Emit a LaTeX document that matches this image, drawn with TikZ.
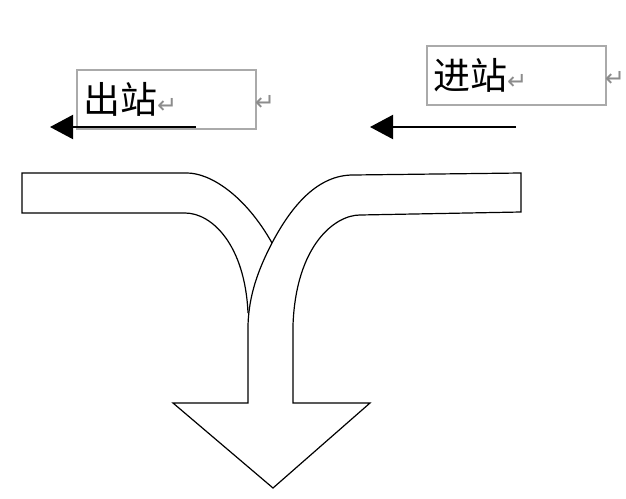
\documentclass[tikz,border=0pt]{standalone}
\usepackage{fontspec}
\newfontfamily\cjk{Noto Sans CJK SC}
\newfontfamily\symfont{DejaVu Sans}
\usetikzlibrary{arrows.meta}
\definecolor{boxgray}{RGB}{170,170,170}
\definecolor{markgray}{RGB}{140,140,140}
\newcommand{\retmark}{{\symfont\fontsize{24}{24}\selectfont\color{markgray}↵}}
\tikzset{
  stationbox/.style={draw=boxgray, line width=2pt, anchor=north west, minimum height=59pt,
    text width=167pt, inner xsep=6pt, align=left, font=\cjk\fontsize{37}{37}\selectfont},
  flowarrow/.style={line width=2pt, -{Triangle[length=23pt,width=24pt]}},
  outline/.style={line width=1.2pt, line join=miter}
}
\begin{document}
\begin{tikzpicture}[x=1pt,y=-1pt]
  \useasboundingbox (0,0) rectangle (626,498);
  % labels
  \node [stationbox] (exitbox) at (76,69) {出站\retmark};
  \node [stationbox] (entrybox) at (426,45) {进站\retmark};
  \node (exitmark) at (265,103) {\retmark};
  \node (entrymark) at (615,79) {\retmark};
  % direction arrows
  \coordinate (exitfrom) at (196,127);
  \coordinate (exitto) at (50,127);
  \coordinate (entryfrom) at (516,127);
  \coordinate (entryto) at (370,127);
  \draw [flowarrow] (exitfrom) -- (exitto);
  \draw [flowarrow] (entryfrom) -- (entryto);
  % merging arrow
  \draw [outline] (248,313) .. controls (245,245) and (212,213) .. (185,213) -- (22,213)
    -- (22,173) -- (187,173) .. controls (210,173) and (245,195) .. (272,243);
  \draw [outline] (248,325) .. controls (249,295) and (258,270) .. (272,243)
    .. controls (292,205) and (318,175) .. (353,175) -- (521,173) -- (521,212)
    -- (360,215) .. controls (335,215) and (296,245) .. (293,325) -- (293,403)
    -- (370,403) -- (273,488) -- (173,403) -- (248,403) -- cycle;
\end{tikzpicture}
\end{document}
